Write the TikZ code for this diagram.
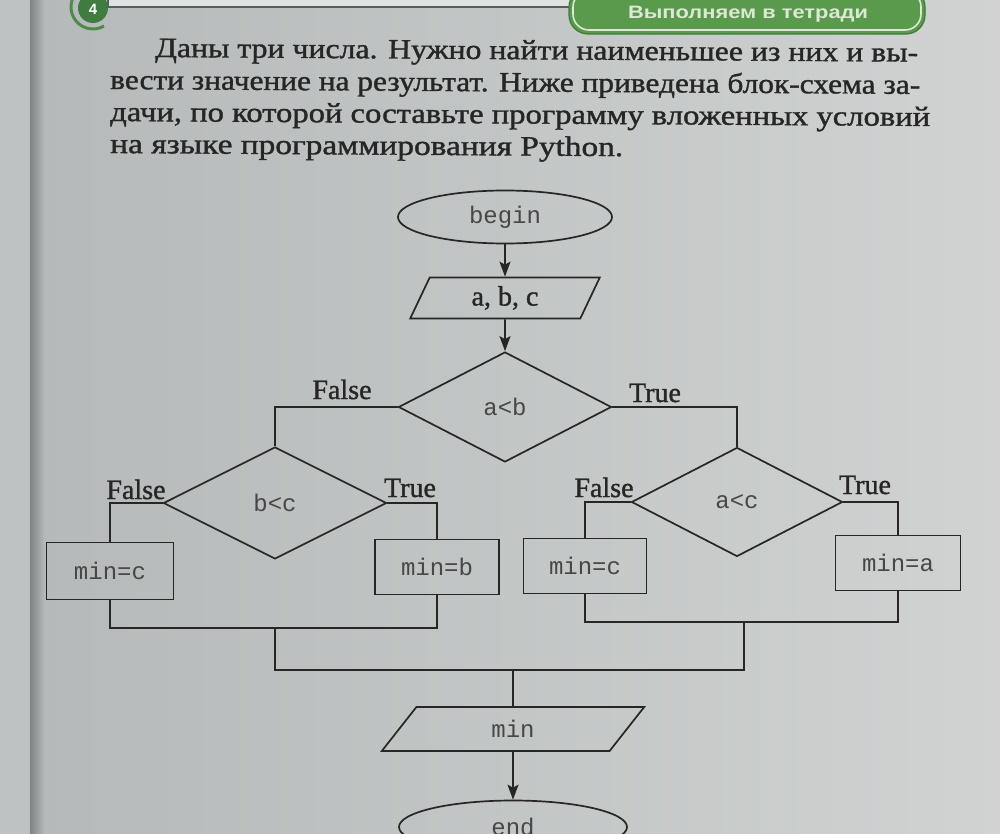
\documentclass[tikz,border=0pt]{standalone}
\usepackage{fontspec}
\setmainfont{Liberation Serif}
\newfontfamily\heavyf[FakeBold=1.2]{Liberation Serif}
\newfontfamily\monof{Liberation Mono}
\newfontfamily\sansf{Liberation Sans}
\usetikzlibrary{shapes.geometric,arrows.meta}
\definecolor{pagel}{HTML}{B4B8B8}
\definecolor{pager}{HTML}{D0D3D2}
\definecolor{ink}{HTML}{262626}
\definecolor{pill}{HTML}{5A9A4C}
\definecolor{pillrim}{HTML}{DCE8D4}
\definecolor{pilledge}{HTML}{3F7A3A}
\definecolor{dgreen}{HTML}{3E7C40}
\definecolor{ringgreen}{HTML}{4B8D48}
\definecolor{edgel}{HTML}{BFC2C2}
\definecolor{edged}{HTML}{7F8383}
\definecolor{hbox}{HTML}{DFE2E0}
\definecolor{hline}{HTML}{55605A}
\begin{document}
\begin{tikzpicture}[x=1pt,y=-1pt,
  flow/.style={draw=ink, line width=1.7pt},
  conn/.style={draw=ink, line width=1.6pt},
  arr/.style={conn, -{Stealth[length=15pt,width=11pt,inset=3pt]}},
  mtxt/.style={font=\monof\fontsize{24}{26}\selectfont, text=ink!85},
  stxt/.style={font=\heavyf\fontsize{28}{30}\selectfont, text=ink},
  term/.style={flow, ellipse, inner sep=0pt, mtxt},
  io/.style={flow, trapezium, trapezium left angle=70, trapezium right angle=110, trapezium stretches=true, inner sep=0pt},
  dec/.style={flow, diamond, inner sep=0pt, mtxt},
  proc/.style={flow, rectangle, inner sep=0pt, mtxt},
  lbl/.style={stxt, anchor=base, inner sep=0pt},
  bodyline/.style={font=\heavyf\fontsize{28}{30}\selectfont, text=ink, anchor=base west, inner sep=0pt, rotate=-0.35}
]
\useasboundingbox (0,0) rectangle (1000,834);
\clip (0,0) rectangle (1000,834);
% page background
\shade[left color=pagel, right color=pager] (0,0) rectangle (1000,834);
\fill[edgel] (0,0) rectangle (30,834);
\shade[left color=edged, right color=pagel] (30,0) rectangle (44,834);
% header
\filldraw[fill=hbox, draw=hline, line width=1.2pt] (108,-6) rectangle (575,7);
\draw[ringgreen, line width=3pt] (93,7) ++(60:22) arc[start angle=60, end angle=215, radius=22];
\fill[dgreen] (93,8) circle (15);
\node[text=white, font=\sansf\bfseries\fontsize{15}{16}\selectfont] (num) at (93,9) {4};
\draw[pilledge, line width=1.2pt, fill=pill, rounded corners=19pt] (569,-12) rectangle (925,34);
\draw[pillrim, line width=1.6pt, rounded corners=16pt] (573,-9) rectangle (921,30);
\node[text=pillrim, inner sep=0pt] (hdr) at (748,14) {\sansf\bfseries\fontsize{18}{20}\selectfont\resizebox{240pt}{\height}{Выполняем в тетради}};
% paragraph
\node[bodyline] (t1) at (155,57) {\resizebox{763pt}{\height}{Даны три числа. Нужно найти наименьшее из них и вы-}};
\node[bodyline] (t2) at (110,89) {\resizebox{810pt}{\height}{вести значение на результат. Ниже приведена блок-схема за-}};
\node[bodyline] (t3) at (110,121) {\resizebox{820pt}{\height}{дачи, по которой составьте программу вложенных условий}};
\node[bodyline] (t4) at (110,153) {\resizebox{513pt}{\height}{на языке программирования Python.}};
% flowchart nodes
\node[term, minimum width=214pt, minimum height=53pt] (begin) at (505,217) {begin};
\node[io, stxt, minimum width=191pt, minimum height=41pt] (inp) at (505,298) {a, b, c};
\node[dec, minimum width=213pt, minimum height=110pt] (d1) at (505,407) {a<b};
\node[dec, minimum width=223pt, minimum height=112pt] (d2) at (275,503) {b<c};
\node[dec, minimum width=211pt, minimum height=109pt] (d3) at (737,502) {a<c};
\node[proc, minimum width=127pt, minimum height=57pt] (b1) at (110,571) {min=c};
\node[proc, minimum width=124pt, minimum height=55pt] (b2) at (437,567) {min=b};
\node[proc, minimum width=123pt, minimum height=55pt] (b3) at (585,566) {min=c};
\node[proc, minimum width=125pt, minimum height=55pt] (b4) at (898,563) {min=a};
\coordinate (m1) at (275,628);
\coordinate (m2) at (744,622);
\coordinate (jm) at (513,670);
\node[io, mtxt, minimum width=263pt, minimum height=44pt, trapezium left angle=66, trapezium right angle=114] (out) at (513,729) {min};
\node[term, minimum width=228pt, minimum height=53pt] (end) at (513,827) {end};
% labels
\node[lbl] (lf1) at (342,399) {False};
\node[lbl] (lt1) at (655,402) {True};
\node[lbl] (lf2) at (136,499) {False};
\node[lbl] (lt2) at (410,497) {True};
\node[lbl] (lf3) at (604,497) {False};
\node[lbl] (lt3) at (865,494) {True};
% connectors
\draw[arr] (begin) -- (inp);
\draw[arr] (inp) -- (d1);
\draw[conn] (d1.west) -| (d2.north);
\draw[conn] (d1.east) -| (d3.north);
\draw[conn] (d2.west) -| (b1.north);
\draw[conn] (d2.east) -| (b2.north);
\draw[conn] (d3.west) -| (b3.north);
\draw[conn] (d3.east) -| (b4.north);
\draw[conn] (b1.south) |- (m1) -| (b2.south);
\draw[conn] (b3.south) |- (m2) -| (b4.south);
\draw[conn] (m1) |- (jm) -| (m2);
\draw[conn] (jm) -- (out);
\draw[arr] (out) -- (end);
\end{tikzpicture}
\end{document}
